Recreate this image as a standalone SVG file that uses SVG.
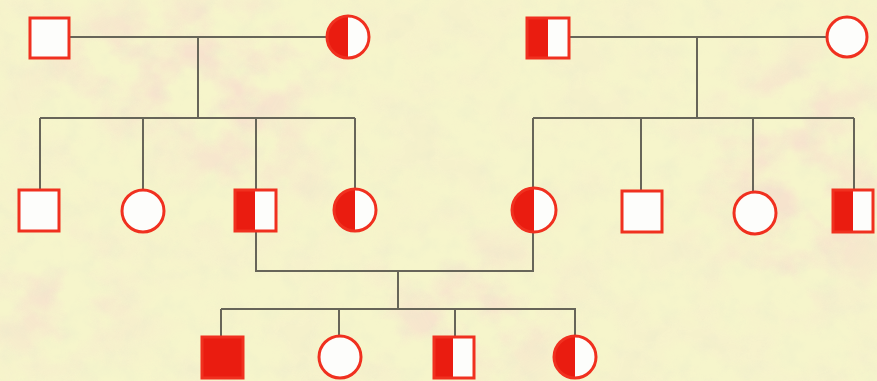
<svg xmlns="http://www.w3.org/2000/svg" width="877" height="381" viewBox="0 0 877 381">
<defs>
<filter id="tex" x="0" y="0" width="100%" height="100%">
<feTurbulence type="fractalNoise" baseFrequency="0.018 0.022" numOctaves="4" seed="7" result="n"/>
<feColorMatrix in="n" type="matrix" values="0 0 0 0 0.93  0 0 0 0 0.74  0 0 0 0 0.62  3.2 0 0 0 -1.25"/>
</filter>
<filter id="tex2" x="0" y="0" width="100%" height="100%">
<feTurbulence type="fractalNoise" baseFrequency="0.05" numOctaves="3" seed="2" result="n"/>
<feColorMatrix in="n" type="matrix" values="0 0 0 0 0.75  0 0 0 0 0.78  0 0 0 0 0.6  0 1.5 0 0 -0.68"/>
</filter>
<filter id="blur" x="-50%" y="-50%" width="200%" height="200%"><feGaussianBlur stdDeviation="28"/></filter>
<mask id="pm">
<rect width="877" height="381" fill="#333"/>
<g filter="url(#blur)" fill="#fff">
<ellipse cx="190" cy="70" rx="140" ry="75"/>
<ellipse cx="250" cy="170" rx="60" ry="40"/>
<ellipse cx="800" cy="180" rx="90" ry="120"/>
<ellipse cx="470" cy="310" rx="90" ry="60"/>
<ellipse cx="60" cy="300" rx="60" ry="50"/>
</g>
</mask>
</defs>
<style>
.ln{stroke:#676559;stroke-width:2;fill:none}
.node{stroke:#f0301f;stroke-width:3}
.wh{fill:#fdfdfb}
.rd{fill:#ea1c10}
.ol{fill:none;stroke:#f0301f;stroke-width:3}
</style>
<rect width="877" height="381" fill="#f6f5cb"/>
<rect width="877" height="381" filter="url(#tex)" mask="url(#pm)" opacity="0.8"/>
<rect width="877" height="381" filter="url(#tex2)" opacity="0.3"/>
<g id="connectors" class="ln">
<line x1="69" y1="37" x2="327" y2="37"/>
<line x1="198" y1="37" x2="198" y2="118"/>
<line x1="40" y1="118" x2="355" y2="118"/>
<line x1="40" y1="118" x2="40" y2="190"/>
<line x1="143" y1="118" x2="143" y2="190"/>
<line x1="256" y1="118" x2="256" y2="271"/>
<line x1="355" y1="118" x2="355" y2="189"/>
<line x1="569" y1="37" x2="827" y2="37"/>
<line x1="697" y1="37" x2="697" y2="118"/>
<line x1="533" y1="118" x2="854" y2="118"/>
<line x1="533" y1="118" x2="533" y2="271"/>
<line x1="641" y1="118" x2="641" y2="191"/>
<line x1="753" y1="118" x2="753" y2="192"/>
<line x1="854" y1="118" x2="854" y2="190"/>
<line x1="255" y1="271" x2="534" y2="271"/>
<line x1="398" y1="271" x2="398" y2="309"/>
<line x1="221" y1="309" x2="576" y2="309"/>
<line x1="221" y1="309" x2="221" y2="337"/>
<line x1="339" y1="309" x2="339" y2="336"/>
<line x1="455" y1="309" x2="455" y2="337"/>
<line x1="575" y1="309" x2="575" y2="336"/>
</g>
<g id="gf1"><rect class="wh node" x="30" y="18" width="39" height="40"/></g>
<g id="gm1"><circle class="wh" cx="348" cy="37" r="21"/><path class="rd" d="M348 16 A21 21 0 0 0 348 58 Z"/><circle class="ol" cx="348" cy="37" r="21"/></g>
<g id="gf2"><rect class="wh" x="527" y="18" width="42" height="40"/><rect class="rd" x="527" y="18" width="21" height="40"/><rect class="ol" x="527" y="18" width="42" height="40"/></g>
<g id="gm2"><circle class="wh node" cx="847" cy="37" r="20"/></g>
<g id="c1"><rect class="wh node" x="19" y="190" width="40" height="41"/></g>
<g id="c2"><circle class="wh node" cx="143" cy="211" r="21"/></g>
<g id="c3"><rect class="wh" x="235" y="190" width="41" height="41"/><rect class="rd" x="235" y="190" width="20" height="41"/><rect class="ol" x="235" y="190" width="41" height="41"/></g>
<g id="c4"><circle class="wh" cx="355" cy="210" r="21"/><path class="rd" d="M355 189 A21 21 0 0 0 355 231 Z"/><circle class="ol" cx="355" cy="210" r="21"/></g>
<g id="c5"><circle class="wh" cx="534" cy="210" r="22"/><path class="rd" d="M534 188 A22 22 0 0 0 534 232 Z"/><circle class="ol" cx="534" cy="210" r="22"/></g>
<g id="c6"><rect class="wh node" x="622" y="191" width="40" height="41"/></g>
<g id="c7"><circle class="wh node" cx="755" cy="213" r="21"/></g>
<g id="c8"><rect class="wh" x="833" y="190" width="40" height="42"/><rect class="rd" x="833" y="190" width="20" height="42"/><rect class="ol" x="833" y="190" width="40" height="42"/></g>
<g id="g1"><rect class="rd node" x="202" y="337" width="41" height="41"/></g>
<g id="g2"><circle class="wh node" cx="340" cy="357" r="21"/></g>
<g id="g3"><rect class="wh" x="434" y="337" width="40" height="41"/><rect class="rd" x="434" y="337" width="19" height="41"/><rect class="ol" x="434" y="337" width="40" height="41"/></g>
<g id="g4"><circle class="wh" cx="575" cy="357" r="21"/><path class="rd" d="M575 336 A21 21 0 0 0 575 378 Z"/><circle class="ol" cx="575" cy="357" r="21"/></g>
</svg>
